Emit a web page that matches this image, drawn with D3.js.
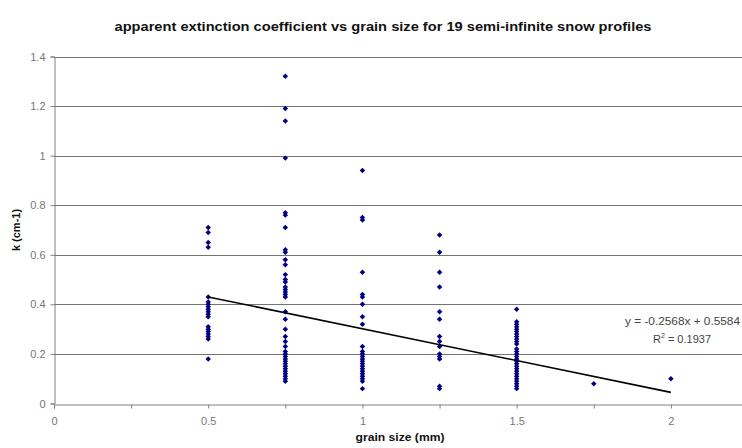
<!DOCTYPE html>
<html>
<head>
<meta charset="utf-8">
<script src="https://cdn.jsdelivr.net/npm/d3@7"></script>
<style>
  html, body { margin: 0; padding: 0; background: #fff; }
  svg { display: block; font-family: "Liberation Sans", Arial, sans-serif; }
</style>
</head>
<body>
<svg id="chart" width="742" height="448"></svg>
<script>
// Grain size classes (mm) and the measured extinction coefficients k (cm-1) for each class
const grainSizes = [0.5, 0.75, 1.0, 1.25, 1.5, 1.75, 2.0];
const kAt050 = [0.71, 0.69, 0.65, 0.63, 0.43, 0.41, 0.40, 0.39, 0.38, 0.37, 0.36, 0.35,
                0.31, 0.30, 0.29, 0.28, 0.27, 0.26, 0.18];
const kAt075 = [1.32, 1.19, 1.14, 0.99, 0.77, 0.76, 0.71, 0.62, 0.61, 0.58, 0.56, 0.52,
                0.50, 0.49, 0.47, 0.46, 0.45, 0.44, 0.43, 0.37, 0.34, 0.30, 0.27, 0.25,
                0.23, 0.21, 0.20, 0.19, 0.18, 0.17, 0.16, 0.15, 0.14, 0.13, 0.12, 0.11,
                0.10, 0.09];
const kAt100 = [0.94, 0.75, 0.74, 0.53, 0.44, 0.43, 0.40, 0.35, 0.32, 0.23, 0.21, 0.20,
                0.19, 0.18, 0.17, 0.16, 0.15, 0.14, 0.13, 0.12, 0.11, 0.10, 0.09, 0.06];
const kAt125 = [0.68, 0.61, 0.53, 0.47, 0.37, 0.34, 0.27, 0.25, 0.23, 0.20, 0.19, 0.18,
                0.07, 0.06];
const kAt150 = [0.38, 0.33, 0.32, 0.31, 0.30, 0.29, 0.28, 0.27, 0.26, 0.25, 0.24, 0.22,
                0.21, 0.20, 0.19, 0.18, 0.17, 0.16, 0.15, 0.14, 0.13, 0.12, 0.11, 0.10,
                0.09, 0.08, 0.07, 0.06];
const kAt175 = [0.08];
const kAt200 = [0.10];
const kSeries = [kAt050, kAt075, kAt100, kAt125, kAt150, kAt175, kAt200];

// Axis ticks and linear fit
const xTicks = [0, 0.25, 0.5, 0.75, 1, 1.25, 1.5, 1.75, 2, 2.25];
const xTickLabels = ["0", "", "0.5", "", "1", "", "1.5", "", "2", ""];
const yTicks = [0, 0.2, 0.4, 0.6, 0.8, 1.0, 1.2, 1.4];
const yTickLabels = ["0", "0.2", "0.4", "0.6", "0.8", "1", "1.2", "1.4"];
const fitSlope = -0.2568, fitIntercept = 0.5584;
const fitLabel = "y = -0.2568x + 0.5584";
const r2Value = "0.1937";

const points = [];
grainSizes.forEach((g, i) => kSeries[i].forEach(k => points.push({ g, k })));

const svg = d3.select("#chart");
const x = d3.scaleLinear().domain([0, 2.25]).range([54, 748]);
const y = d3.scaleLinear().domain([0, 1.4]).range([403.5, 56.5]);

// title (slightly widened face)
svg.append("text")
  .attr("x", 383).attr("y", 31)
  .attr("text-anchor", "middle")
  .attr("font-size", 13).attr("font-weight", "bold")
  .attr("fill", "#111")
  .attr("textLength", 537).attr("lengthAdjust", "spacingAndGlyphs")
  .text("apparent extinction coefficient vs grain size for 19 semi-infinite snow profiles");

// horizontal gridlines
svg.append("g").selectAll("line").data(yTicks.slice(1)).join("line")
  .attr("x1", x(0)).attr("x2", 742)
  .attr("y1", d => Math.round(y(d)) + 0.5).attr("y2", d => Math.round(y(d)) + 0.5)
  .attr("stroke", "#747474").attr("stroke-width", 1.2);

// y axis
const yAxis = d3.axisLeft(y).tickValues(yTicks)
  .tickFormat((d, i) => yTickLabels[i]).tickSize(4).tickPadding(5);
const gy = svg.append("g").attr("transform", `translate(${x(0) + 0.5},0)`).call(yAxis);
gy.select(".domain").attr("stroke", "#808080");
gy.selectAll(".tick line").attr("stroke", "#808080");
gy.selectAll(".tick text").attr("fill", "#777").attr("font-size", 11)
  .attr("font-family", "Liberation Sans, Arial, sans-serif");

// x axis
const xAxis = d3.axisBottom(x).tickValues(xTicks)
  .tickFormat((d, i) => xTickLabels[i]).tickSize(4).tickPadding(9);
const gx = svg.append("g").attr("transform", `translate(0,${Math.round(y(0)) + 0.5})`).call(xAxis);
gx.select(".domain").attr("stroke", "#808080");
gx.selectAll(".tick line").attr("stroke", "#808080");
gx.selectAll(".tick text").attr("fill", "#777").attr("font-size", 11)
  .attr("font-family", "Liberation Sans, Arial, sans-serif");

// axis titles
svg.append("text")
  .attr("x", 400).attr("y", 441)
  .attr("text-anchor", "middle")
  .attr("font-size", 11).attr("font-weight", "bold").attr("fill", "#111")
  .attr("textLength", 89).attr("lengthAdjust", "spacingAndGlyphs")
  .text("grain size (mm)");
svg.append("text")
  .attr("transform", `translate(20,${y(0.7)}) rotate(-90)`)
  .attr("text-anchor", "middle")
  .attr("font-size", 11).attr("font-weight", "bold").attr("fill", "#111")
  .text("k (cm-1)");

// data markers: small navy diamonds
const diamond = d3.symbol().type(d3.symbolSquare).size(15);
svg.append("g").selectAll("path").data(points).join("path")
  .attr("d", diamond)
  .attr("transform", d => `translate(${x(d.g)},${y(d.k)}) rotate(45)`)
  .attr("fill", "#000080");

// linear trend over the measured grain-size range
const gMin = d3.min(grainSizes), gMax = d3.max(grainSizes);
const fitLine = [gMin, gMax].map(g => ({ g, k: fitSlope * g + fitIntercept }));
svg.append("path")
  .datum(fitLine)
  .attr("d", d3.line().x(d => x(d.g)).y(d => y(d.k)))
  .attr("fill", "none").attr("stroke", "#000").attr("stroke-width", 1.6);

// trend equation
const eq = svg.append("g").attr("font-size", 11).attr("fill", "#444");
eq.append("text").attr("x", 740).attr("y", 325).attr("text-anchor", "end")
  .attr("textLength", 115).attr("lengthAdjust", "spacingAndGlyphs").text(fitLabel);
const r2 = eq.append("text").attr("x", 682).attr("y", 343).attr("text-anchor", "middle");
r2.append("tspan").text("R");
r2.append("tspan").attr("font-size", 7).attr("dy", -5).text("2");
r2.append("tspan").attr("dy", 5).text(" = " + r2Value);
</script>
</body>
</html>
